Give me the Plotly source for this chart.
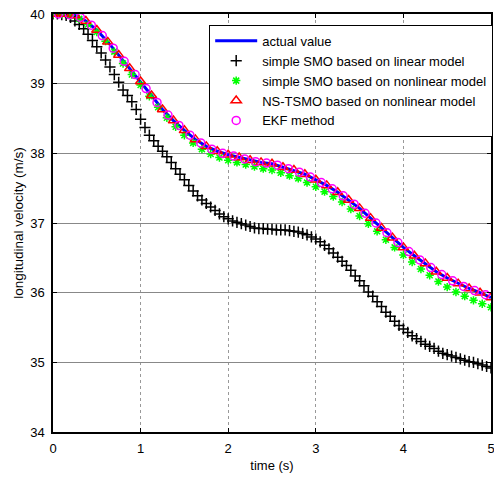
import plotly.graph_objects as go

# time grids
t_upper = [round(i * 0.125, 4) for i in range(41)]
t_ekf = [round(0.0625 + i * 0.125, 4) for i in range(40)]
t_green = [round(i * 0.1, 2) for i in range(51)]
t_black = [round(i * 0.05, 2) for i in range(101)]

actual_value = [40.00, 40.00, 39.98, 39.90, 39.77, 39.60, 39.41, 39.22, 39.03, 38.83,
                38.63, 38.47, 38.33, 38.20, 38.10, 38.03, 37.98, 37.94, 37.90, 37.87,
                37.85, 37.80, 37.76, 37.70, 37.62, 37.54, 37.44, 37.33, 37.21, 37.07,
                36.93, 36.79, 36.65, 36.53, 36.42, 36.30, 36.21, 36.13, 36.06, 36.00, 35.93]

ns_tsmo = [40.00, 40.00, 39.98, 39.90, 39.77, 39.60, 39.41, 39.22, 39.03, 38.83,
           38.63, 38.47, 38.33, 38.20, 38.10, 38.03, 37.98, 37.94, 37.90, 37.87,
           37.85, 37.80, 37.76, 37.70, 37.62, 37.54, 37.44, 37.33, 37.21, 37.07,
           36.93, 36.79, 36.65, 36.53, 36.42, 36.30, 36.21, 36.13, 36.06, 36.00, 35.93]

ekf = [40.00, 39.99, 39.95, 39.84, 39.69, 39.51, 39.32, 39.13, 38.93, 38.73,
       38.55, 38.40, 38.26, 38.15, 38.06, 38.00, 37.96, 37.92, 37.88, 37.86,
       37.83, 37.78, 37.73, 37.66, 37.58, 37.49, 37.39, 37.27, 37.14, 37.00,
       36.86, 36.72, 36.59, 36.47, 36.36, 36.26, 36.17, 36.09, 36.03, 35.97]

smo_nonlinear = [40.00, 40.00, 39.98, 39.93, 39.85, 39.74, 39.61, 39.46, 39.29, 39.13,
                 38.98, 38.82, 38.66, 38.51, 38.38, 38.26, 38.15, 38.06, 37.99, 37.94,
                 37.90, 37.87, 37.84, 37.81, 37.78, 37.76, 37.72, 37.68, 37.64, 37.58,
                 37.52, 37.45, 37.38, 37.30, 37.20, 37.10, 36.99, 36.88, 36.76, 36.65,
                 36.54, 36.44, 36.34, 36.25, 36.16, 36.08, 36.01, 35.95, 35.89, 35.84, 35.79]

smo_linear = [40.00, 40.00, 39.99, 39.98, 39.95, 39.90, 39.85, 39.79, 39.71, 39.62,
              39.53, 39.44, 39.34, 39.24, 39.13, 39.02, 38.91, 38.83, 38.74, 38.63,
              38.49, 38.37, 38.26, 38.18, 38.10, 38.03, 37.95, 37.87, 37.78, 37.70,
              37.62, 37.54, 37.46, 37.39, 37.33, 37.28, 37.23, 37.18, 37.13, 37.09,
              37.06, 37.03, 37.01, 36.99, 36.97, 36.95, 36.93, 36.92, 36.92, 36.91,
              36.91, 36.90, 36.90, 36.90, 36.89, 36.88, 36.87, 36.85, 36.83, 36.80,
              36.77, 36.73, 36.68, 36.63, 36.57, 36.51, 36.45, 36.39, 36.32, 36.24,
              36.17, 36.10, 36.01, 35.95, 35.87, 35.80, 35.72, 35.66, 35.59, 35.53,
              35.48, 35.43, 35.38, 35.34, 35.30, 35.26, 35.23, 35.20, 35.16, 35.13,
              35.11, 35.09, 35.07, 35.05, 35.03, 35.01, 35.00, 34.98, 34.96, 34.94, 34.92]

x_ticks = [0, 1, 2, 3, 4, 5]
y_ticks = [34, 35, 36, 37, 38, 39, 40]

FONT = "Liberation Sans, Arial, sans-serif"

fig = go.Figure()
fig.add_trace(go.Scatter(x=t_upper, y=actual_value, mode="lines", name="actual value",
                         line=dict(color="#0000ff", width=3)))
fig.add_trace(go.Scatter(x=t_black, y=smo_linear, mode="markers",
                         name="simple SMO based on linear model",
                         marker=dict(symbol="cross-thin", size=8, color="black",
                                     line=dict(color="black", width=1.5))))
fig.add_trace(go.Scatter(x=t_green, y=smo_nonlinear, mode="markers",
                         name="simple SMO based on nonlinear model",
                         marker=dict(symbol="asterisk", size=7, color="#00ff00",
                                     line=dict(color="#00ff00", width=1.5))))
fig.add_trace(go.Scatter(x=t_upper, y=ns_tsmo, mode="markers",
                         name="NS-TSMO based on nonlinear model",
                         marker=dict(symbol="triangle-up-open", size=9, color="#ff0000",
                                     line=dict(color="#ff0000", width=1.5))))
fig.add_trace(go.Scatter(x=t_ekf, y=ekf, mode="markers", name="EKF method",
                         marker=dict(symbol="circle-open", size=8, color="#ff00ff",
                                     line=dict(color="#ff00ff", width=1.5))))

fig.update_layout(
    width=494, height=479,
    margin=dict(l=53, r=3, t=14, b=47, autoexpand=False),
    paper_bgcolor="white", plot_bgcolor="white",
    font=dict(family=FONT, size=13, color="black"),
    showlegend=True,
    legend=dict(x=1.005, xanchor="right", y=0.974, yanchor="top",
                bgcolor="white", bordercolor="black", borderwidth=1,
                font=dict(family=FONT, size=13), tracegroupgap=0,
                itemwidth=42),
)
fig.update_xaxes(range=[0, 5], tickvals=x_ticks, ticktext=[str(v) for v in x_ticks],
                 showgrid=True, gridcolor="#999999", griddash="dot", gridwidth=1,
                 showline=True, linecolor="black", linewidth=1.5, mirror="ticks",
                 ticks="inside", ticklen=4, tickcolor="black", automargin=False,
                 zeroline=False, tickfont=dict(size=13), ticklabelstandoff=4,
                 ticklabeloverflow="allow",
                 title=dict(text="time (s)", font=dict(size=13), standoff=6))
fig.update_yaxes(range=[34, 40], tickvals=y_ticks, ticktext=[str(v) for v in y_ticks],
                 showgrid=True, gridcolor="#888888", gridwidth=1,
                 showline=True, linecolor="black", linewidth=1.5, mirror="ticks",
                 ticks="inside", ticklen=4, tickcolor="black", automargin=False,
                 zeroline=False, tickfont=dict(size=13), ticklabelstandoff=4,
                 ticklabeloverflow="allow",
                 title=dict(text="longitudinal velocity (m/s)",
                            font=dict(size=13.5), standoff=3))

fig.write_html("out.html", config={"displayModeBar": False},
               post_script="document.body.style.margin='0';")
